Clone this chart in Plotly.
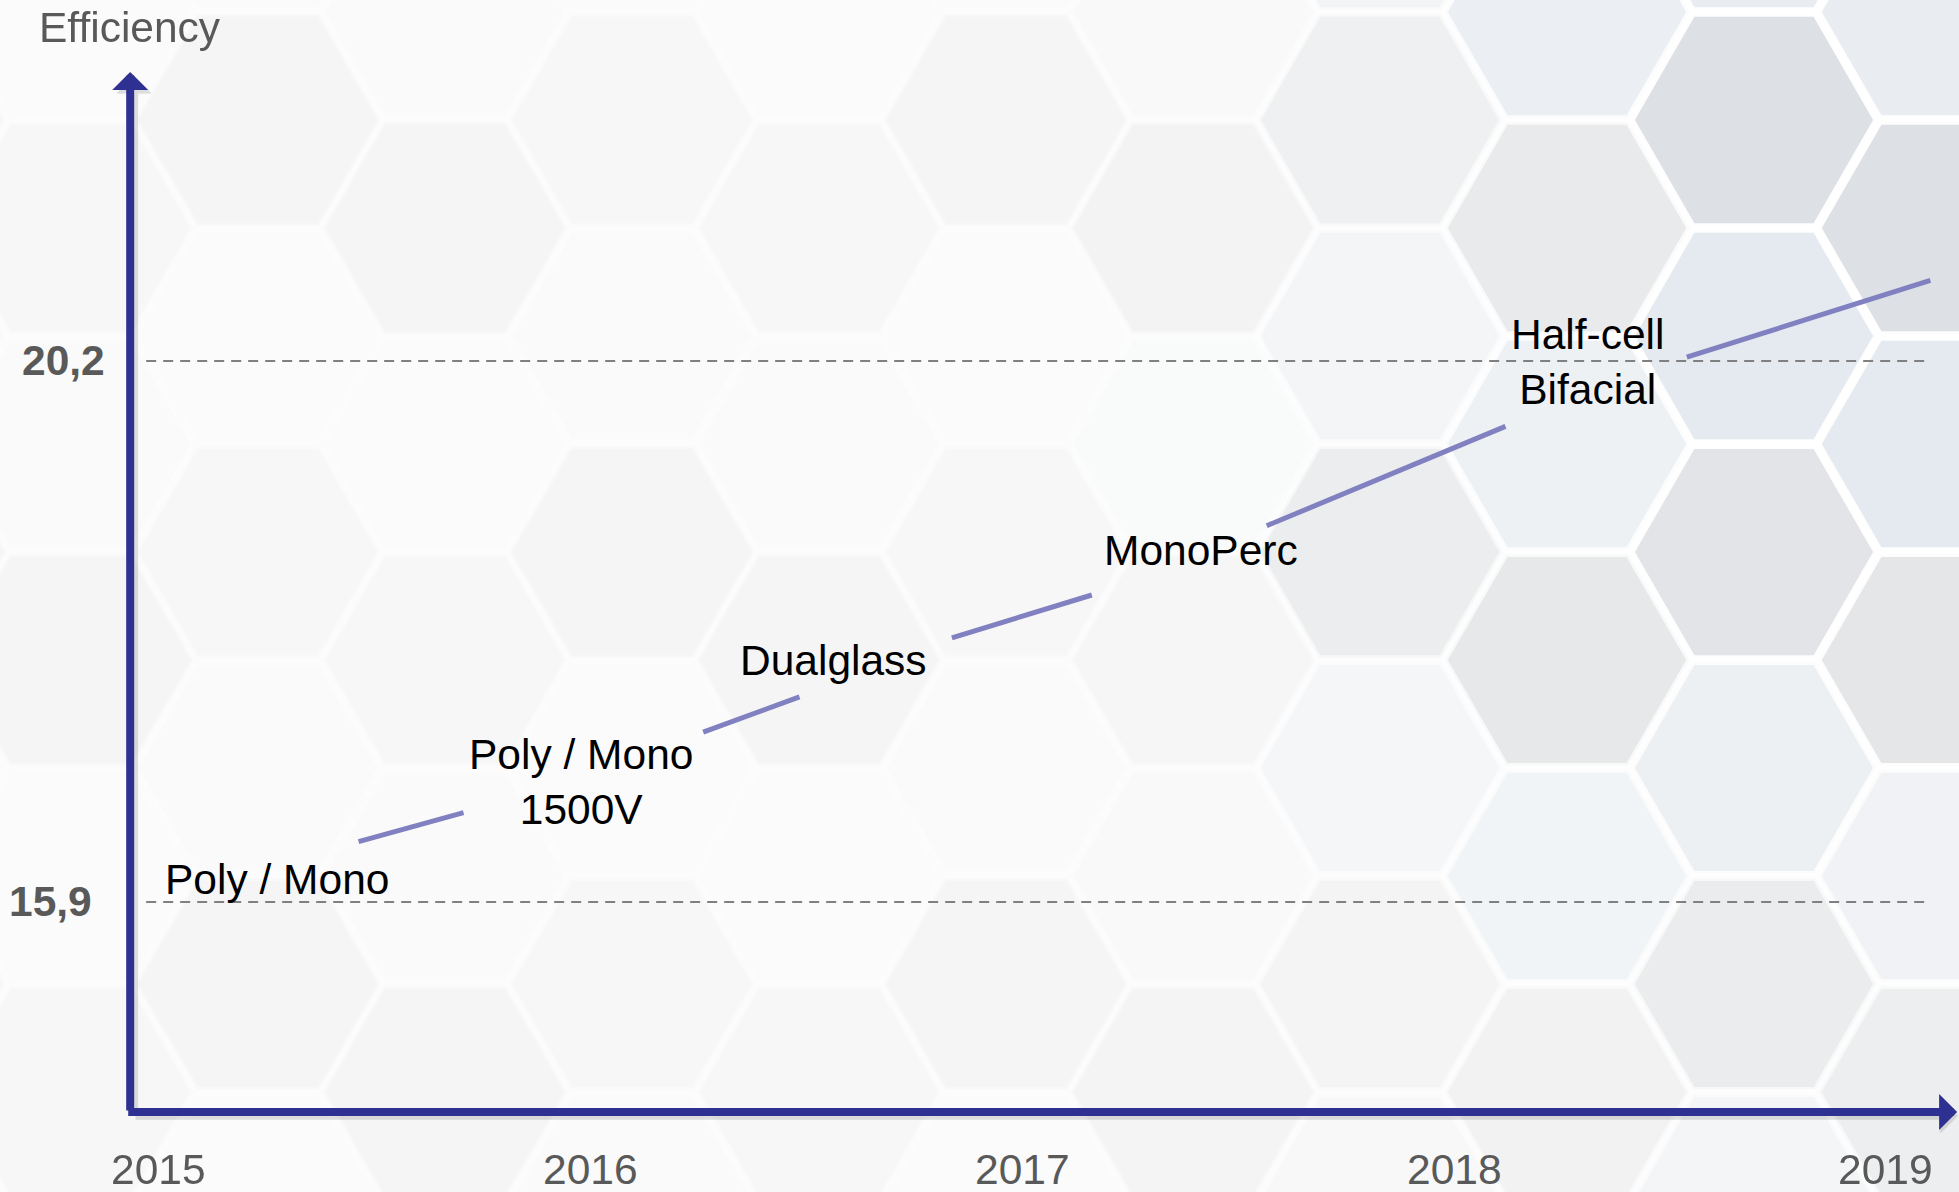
import plotly.graph_objects as go

# x axis: years, y axis: module efficiency (%)
years = [2015, 2016, 2017, 2018, 2019]
year_labels = ["2015", "2016", "2017", "2018", "2019"]

ref_levels = [15.9, 20.2]
ref_labels = ["15,9", "20,2"]

techs = ["Poly / Mono", "Poly / Mono<br>1500V", "Dualglass", "MonoPerc", "Half-cell<br>Bifacial"]
tech_x = [2015.274, 2015.978, 2016.562, 2017.414, 2018.310]
tech_y = [16.08, 16.85, 17.82, 18.69, 20.19]

# trend segments between the labels
seg_x0 = [2015.463, 2016.261, 2016.837, 2017.566, 2018.539]
seg_x1 = [2015.706, 2016.484, 2017.161, 2018.119, 2019.103]
seg_y0 = [16.38, 17.25, 18.00, 18.89, 20.23]
seg_y1 = [16.61, 17.53, 18.34, 19.68, 20.84]

W, H = 1959, 1192
X_RANGE = [2014.6325, 2019.1693]
Y_RANGE = [13.595, 23.069]

# axis arrows
x_origin, y_origin = 2014.934, 14.231
x_end, y_end = 2019.165, 22.497
ref_x0, ref_x1 = 2014.971, 2019.102

AXIS_BLUE = "#2E3192"
SEG_COLOR = "#8181C1"
GREY = "#595959"
FONT = "Liberation Sans, Arial, sans-serif"
FS = 42.5


def px(x, y):
    return x / W, 1 - y / H


# background hexagon pattern (decoration only)
def hex_path(cx, cy, r):
    k = 0.866
    pts = [(cx - r, cy), (cx - r / 2, cy - k * r), (cx + r / 2, cy - k * r),
           (cx + r, cy), (cx + r / 2, cy + k * r), (cx - r / 2, cy + k * r)]
    s = ""
    for i, (a, b) in enumerate(pts):
        u, v = px(a, b)
        s += ("M" if i == 0 else "L") + f"{u:.4f},{v:.4f}"
    return s + "Z"


def blend(c1, c2, t):
    a = [int(c1[i:i + 2], 16) for i in (1, 3, 5)]
    b = [int(c2[i:i + 2], 16) for i in (1, 3, 5)]
    return "rgb(%d,%d,%d)" % tuple(round(a[i] + (b[i] - a[i]) * t) for i in range(3))


shapes = []
R = 122
left_tones = ["#FBFBFB", "#F7F7F7", "#FAFAFA", "#F5F5F5"]
right_tones = ["#E4EAEF", "#E3E4E7", "#E9EDF1", "#DDE0E4"]
for i in range(-7, 6):
    cx = 1193 + 187 * i
    for j in range(-3, 5):
        cy = 444 + 216 * j + (108 if i % 2 else 0)
        tx = min(max((cx - 1150) / 600, 0), 1)
        ty = min(max(1 - (cy - 600) / 700, 0.35), 1)
        t = tx * ty
        k = (i * 3 + j * 5) % 4
        fill = blend(left_tones[k], right_tones[k], t)
        edge = "rgba(255,255,255,%.2f)" % (0.35 + 0.6 * t)
        shapes.append(dict(type="path", path=hex_path(cx, cy, R), xref="paper", yref="paper",
                           fillcolor=fill, line=dict(color=edge, width=5),
                           layer="below"))

# dashed reference levels
for lv in ref_levels:
    shapes.append(dict(type="line", xref="x", yref="y", x0=ref_x0, x1=ref_x1, y0=lv, y1=lv,
                       line=dict(color="#808080", width=2, dash="10px,7px"), layer="below"))

fig = go.Figure()

for a, b, c, d in zip(seg_x0, seg_x1, seg_y0, seg_y1):
    fig.add_trace(go.Scatter(x=[a, b], y=[c, d], mode="lines",
                             line=dict(color=SEG_COLOR, width=5), hoverinfo="skip", showlegend=False))

annotations = []

# axis shadows + arrows
arrow = dict(xref="x", yref="y", axref="x", ayref="y", text="", showarrow=True,
             arrowhead=1, arrowsize=0.75, arrowwidth=8)
annotations.append(dict(arrow, x=x_origin + 0.009, y=y_end - 0.03, ax=x_origin + 0.009, ay=y_origin - 0.03,
                        arrowcolor="rgba(0,0,0,0.12)"))
annotations.append(dict(arrow, x=x_end + 0.002, y=y_origin - 0.03, ax=x_origin + 0.009, ay=y_origin - 0.03,
                        arrowcolor="rgba(0,0,0,0.12)"))
annotations.append(dict(arrow, x=x_origin, y=y_end, ax=x_origin, ay=y_origin, arrowcolor=AXIS_BLUE))
annotations.append(dict(arrow, x=x_end, y=y_origin, ax=x_origin - 0.008, ay=y_origin, arrowcolor=AXIS_BLUE))

# year labels
for yr, lab in zip(years, year_labels):
    annotations.append(dict(x=yr, y=1 - 1169 / H, xref="x", yref="paper", text=lab, showarrow=False,
                            font=dict(family=FONT, size=FS, color=GREY), xanchor="center", yanchor="middle"))

# efficiency levels
lvl_right = [94, 107]
for lv, lab, r in zip(ref_levels, ref_labels, lvl_right):
    annotations.append(dict(x=r / W, y=lv, xref="paper", yref="y", text="<b>" + lab + "</b>", showarrow=False,
                            font=dict(family=FONT, size=FS, color=GREY), xanchor="right", yanchor="middle"))

# technology labels
for t, x, y in zip(techs, tech_x, tech_y):
    annotations.append(dict(x=x, y=y, xref="x", yref="y", text=t, showarrow=False,
                            font=dict(family=FONT, size=FS, color="black"), xanchor="center", yanchor="middle"))

annotations.append(dict(x=130 / W, y=1 - 27 / H, xref="paper", yref="paper", text="Efficiency", showarrow=False,
                        font=dict(family=FONT, size=FS, color=GREY), xanchor="center", yanchor="middle"))

fig.update_layout(
    width=W, height=H,
    margin=dict(l=0, r=0, t=0, b=0),
    paper_bgcolor="#FAFAFA",
    plot_bgcolor="rgba(0,0,0,0)",
    xaxis=dict(range=X_RANGE, visible=False, fixedrange=True),
    yaxis=dict(range=Y_RANGE, visible=False, fixedrange=True),
    shapes=shapes,
    annotations=annotations,
    showlegend=False,
)

fig.write_html("out.html", config={"displayModeBar": False},
               post_script="document.body.style.margin='0';document.body.style.overflow='hidden';")
